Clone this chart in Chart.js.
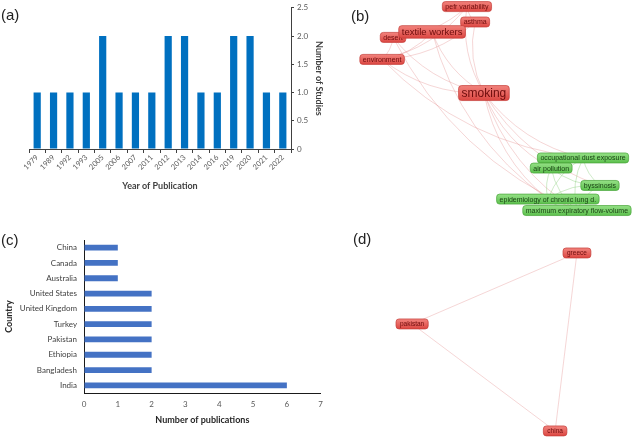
<!DOCTYPE html>
<html lang="en">
  <head>
    <meta charset="utf-8" />
    <title>Studies, countries and keyword maps</title>
    <style>
      * {
        margin: 0;
        padding: 0;
      }
      body {
        width: 633px;
        height: 437px;
        background: #fff;
        position: relative;
        overflow: hidden;
        font-family: "Liberation Sans", Arial, sans-serif;
      }
      .box {
        position: absolute;
      }
      .tag {
        position: absolute;
        font-size: 15px;
        color: #222;
      }
    </style>
  </head>
  <body>
    <div class="box" style="left:0;top:0;width:330px;height:200px"><canvas id="chartA"></canvas></div>
    <div class="box" style="left:330px;top:0;width:303px;height:220px"><canvas id="chartB"></canvas></div>
    <div class="box" style="left:0;top:220px;width:330px;height:217px"><canvas id="chartC"></canvas></div>
    <div class="box" style="left:330px;top:220px;width:303px;height:217px"><canvas id="chartD"></canvas></div>
    <div class="tag" style="left:1px;top:6px">(a)</div>
    <div class="tag" style="left:351px;top:7px">(b)</div>
    <div class="tag" style="left:1px;top:231px">(c)</div>
    <div class="tag" style="left:353px;top:230px">(d)</div>

    <script src="https://cdn.jsdelivr.net/npm/chart.js"></script>

    <script>
      // (a) studies per year
      const years = ["1979", "1989", "1992", "1993", "2005", "2006", "2007", "2011",
        "2012", "2013", "2014", "2016", "2019", "2020", "2021", "2022"];
      const studies = [1, 1, 1, 1, 2, 1, 1, 1, 2, 2, 1, 1, 2, 2, 1, 1];

      // (c) publications per country
      const countries = ["China", "Canada", "Australia", "United States", "United Kingdom",
        "Turkey", "Pakistan", "Ethiopia", "Bangladesh", "India"];
      const publications = [1, 1, 1, 2, 2, 2, 2, 2, 2, 6];

      // (b) keyword co-occurrence map (map units 0-100)
      const keywords = ["pefr variability", "asthma", "textile workers", "desert", "environment",
        "smoking", "occupational dust exposure", "air pollution", "byssinosis",
        "epidemiology of chronic lung d.", "maximum expiratory flow-volume"];
      const keywordX = [45.2, 47.9, 33.7, 20.8, 17.2, 50.8, 83.5, 73.0, 89.1, 71.9, 81.5];
      const keywordY = [3.0, 10.0, 14.5, 17.0, 27.0, 42.3, 71.8, 76.4, 84.3, 90.5, 95.7];
      const keywordCluster = [1, 1, 1, 1, 1, 1, 2, 2, 2, 2, 2];
      const keywordWeight = [1, 1, 3, 1, 1, 5, 1, 1, 1, 1, 1];
      const keywordLinks = [
        [0, 5], [1, 5], [2, 5], [3, 5], [4, 5],
        [5, 6], [5, 7], [5, 8], [5, 9], [5, 10],
        [4, 0], [3, 0], [2, 1], [4, 2], [4, 3], [0, 1], [4, 1],
        [2, 9], [4, 6], [3, 10],
        [6, 7], [6, 8], [6, 9], [6, 10], [7, 8], [7, 9], [7, 10], [8, 9], [8, 10], [9, 10],
      ];

      // (d) country co-authorship map
      const mapCountries = ["greece", "pakistan", "china"];
      const mapCountryX = [81.5, 27.1, 74.3];
      const mapCountryY = [15.2, 47.9, 97.2];
      const mapCountryWeight = [1, 1, 1];
      const mapCountryLinks = [[0, 1], [1, 2], [0, 2]];

      const tickFont = { family: "Lato, 'Open Sans', sans-serif", size: 8 };
      const titleFont = { family: "Lato, 'Open Sans', sans-serif", size: 9, weight: "bold" };

      const clusterStyle = {
        1: { top: "#f2837d", bottom: "#dc4742", line: "#c43c38", text: "#6e0c0c", edge: "rgba(222,120,120,0.38)" },
        2: { top: "#95e086", bottom: "#5cc04d", line: "#47a53a", text: "#173f12", edge: "rgba(120,200,105,0.45)" },
      };

      // network plugin: links behind, labelled boxes on top
      const netPlugin = {
        id: "net",
        beforeDatasetsDraw(chart, args, o) {
          const ctx = chart.ctx;
          const xs = chart.scales.x, ys = chart.scales.y;
          const px = (i) => xs.getPixelForValue(o.x[i]);
          const py = (i) => ys.getPixelForValue(o.y[i]);
          ctx.save();
          ctx.lineWidth = 0.8;
          o.links.forEach(([a, b]) => {
            const x1 = px(a), y1 = py(a), x2 = px(b), y2 = py(b);
            ctx.strokeStyle = clusterStyle[o.cluster[a]].edge;
            if (o.cluster[a] !== o.cluster[b]) ctx.strokeStyle = clusterStyle[1].edge;
            ctx.beginPath();
            ctx.moveTo(x1, y1);
            if (o.curve) {
              const mx = (x1 + x2) / 2, my = (y1 + y2) / 2;
              const dx = x2 - x1, dy = y2 - y1;
              ctx.quadraticCurveTo(mx - dy * o.curve, my + dx * o.curve, x2, y2);
            } else {
              ctx.lineTo(x2, y2);
            }
            ctx.stroke();
          });
          ctx.restore();
        },
        afterDatasetsDraw(chart, args, o) {
          const ctx = chart.ctx;
          const xs = chart.scales.x, ys = chart.scales.y;
          const order = o.labels.map((_, i) => i).sort((a, b) => o.weight[a] - o.weight[b]);
          ctx.save();
          order.forEach((i) => {
            const st = clusterStyle[o.cluster[i]];
            const fs = o.fontBase + (o.weight[i] - 1) * 1.25;
            ctx.font = fs + "px 'Liberation Sans', Arial, sans-serif";
            const w = ctx.measureText(o.labels[i]).width + 2 * o.padX;
            const h = fs + o.padY;
            const cx = xs.getPixelForValue(o.x[i]);
            const cy = ys.getPixelForValue(o.y[i]);
            const g = ctx.createLinearGradient(0, cy - h / 2, 0, cy + h / 2);
            g.addColorStop(0, st.top);
            g.addColorStop(1, st.bottom);
            ctx.beginPath();
            ctx.roundRect(cx - w / 2, cy - h / 2, w, h, 3);
            ctx.fillStyle = g;
            ctx.fill();
            ctx.strokeStyle = st.line;
            ctx.lineWidth = 0.7;
            ctx.stroke();
            ctx.fillStyle = st.text;
            ctx.textAlign = "center";
            ctx.textBaseline = "middle";
            ctx.fillText(o.labels[i], cx, cy + 0.5);
          });
          ctx.restore();
        },
      };

      const netChart = (id, labels, x, y, cluster, weight, links, extra) =>
        new Chart(document.getElementById(id), {
          type: "scatter",
          data: {
            datasets: [{ data: x.map((v, i) => ({ x: v, y: y[i] })), pointRadius: 0 }],
          },
          options: {
            responsive: true,
            maintainAspectRatio: false,
            animation: false,
            events: [],
            layout: { padding: 0 },
            scales: {
              x: { display: false, min: 0, max: 100 },
              y: { display: false, min: 0, max: 100, reverse: true },
            },
            plugins: {
              legend: { display: false },
              tooltip: { enabled: false },
              net: Object.assign({ labels, x, y, cluster, weight, links }, extra),
            },
          },
          plugins: [netPlugin],
        });

      // (a)
      new Chart(document.getElementById("chartA"), {
        type: "bar",
        data: {
          labels: years,
          datasets: [{ data: studies, backgroundColor: "#0070c0", barPercentage: 0.44, categoryPercentage: 1 }],
        },
        options: {
          responsive: true,
          maintainAspectRatio: false,
          animation: false,
          layout: { padding: { left: 29, top: 6, right: 6, bottom: 9 } },
          plugins: { legend: { display: false }, tooltip: { enabled: false } },
          scales: {
            x: {
              grid: { drawOnChartArea: false, tickLength: 4, color: "#404040", offset: true },
              border: { color: "#404040" },
              ticks: { autoSkip: false, font: { ...tickFont, size: 7.5 }, color: "#595959", minRotation: 45, maxRotation: 45, padding: 0 },
              title: { display: true, text: "Year of Publication", font: titleFont, color: "#404040", padding: 0 },
              afterFit: (s) => { s.height = 42; },
            },
            y: {
              position: "right",
              min: 0,
              max: 2.5,
              grid: { drawOnChartArea: false, tickLength: 3, color: "#404040" },
              border: { color: "#404040" },
              ticks: { stepSize: 0.5, font: tickFont, color: "#595959", padding: 3 },
              title: { display: true, text: "Number of Studies", font: titleFont, color: "#404040", padding: 0 },
              afterFit: (s) => { s.width = 33; },
            },
          },
        },
      });

      // (b)
      netChart("chartB", keywords, keywordX, keywordY, keywordCluster, keywordWeight, keywordLinks,
        { curve: 0.18, fontBase: 7, padX: 3, padY: 3 });

      // (c)
      new Chart(document.getElementById("chartC"), {
        type: "bar",
        data: {
          labels: countries,
          datasets: [{ data: publications, backgroundColor: "#4472c4", barPercentage: 0.38, categoryPercentage: 1 }],
        },
        options: {
          indexAxis: "y",
          responsive: true,
          maintainAspectRatio: false,
          animation: false,
          layout: { padding: { left: 4, top: 20, right: 7, bottom: 6 } },
          plugins: { legend: { display: false }, tooltip: { enabled: false } },
          scales: {
            x: {
              min: 0,
              max: 7,
              grid: { drawOnChartArea: false, drawTicks: false },
              border: { color: "#1a1a1a" },
              ticks: { stepSize: 1, font: tickFont, color: "#595959", padding: 7 },
              title: { display: true, text: "Number of publications", font: titleFont, color: "#262626", padding: { top: 2, bottom: 6 } },
              afterFit: (s) => { s.height = 38; },
            },
            y: {
              grid: { drawOnChartArea: false, drawTicks: false },
              border: { color: "#1a1a1a" },
              ticks: { font: tickFont, color: "#404040", padding: 7 },
              title: { display: true, text: "Country", font: titleFont, color: "#262626", padding: { top: 0, bottom: 6 } },
              afterFit: (s) => { s.width = 80; },
            },
          },
        },
      });

      // (d)
      netChart("chartD", mapCountries, mapCountryX, mapCountryY, [1, 1, 1], mapCountryWeight, mapCountryLinks,
        { curve: 0, fontBase: 6.5, padX: 4, padY: 3.5 });
    </script>
  </body>
</html>
